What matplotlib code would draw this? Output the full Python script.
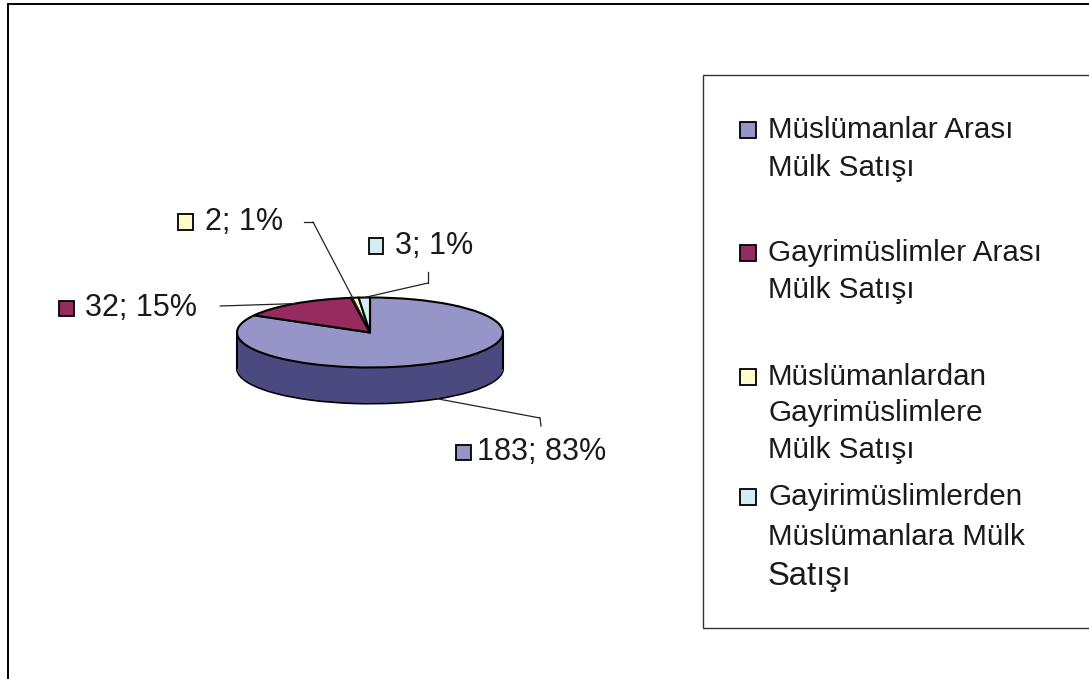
import numpy as np
import matplotlib.pyplot as plt
from matplotlib.patches import Rectangle

plt.rcParams['font.family'] = ['Liberation Sans', 'DejaVu Sans']

# data
categories = ['Müslümanlar Arası\nMülk Satışı',
              'Gayrimüslimler Arası\nMülk Satışı',
              'Müslümanlardan\nGayrimüslimlere\nMülk Satışı',
              'Gayirimüslimlerden\nMüslümanlara Mülk\nSatışı']
values = [183, 32, 2, 3]
percents = [83, 15, 1, 1]
top_colors = ['#9595C8', '#952B5E', '#FFFCCC', '#D2EEF2']
side_colors = ['#4A4A80', '#5A1A39', '#99977A', '#7E8F91']

W, H = 1089, 679
fig = plt.figure(figsize=(W / 100, H / 100), dpi=100)

def fx(px):
    return px / W

def fy(py):
    return 1 - py / H

# pie geometry in pixels (center, x radius, y radius, depth)
cx, cy = 370, 332.5
rx, ry = 133, 35
depth = 36 / ry  # in y data units

x0, x1 = -1.3, 1.3
y0, y1 = -1.3 - depth, 1.3
ax = fig.add_axes([fx(cx + x0 * rx), fy(cy - y0 * ry),
                   (x1 - x0) * rx / W, (y1 - y0) * ry / H])

# side of the cylinder: stacked copies of the pie, bottom one outlined
offsets = np.linspace(depth, 0, 60)
for i, off in enumerate(offsets):
    if i == 0:
        wp = dict(edgecolor='black', linewidth=1.5)
    else:
        wp = dict(edgecolor='none', linewidth=0)
    ax.pie(values, colors=side_colors, startangle=90, counterclock=False,
           center=(0, -off), radius=1, wedgeprops=wp)
ax.vlines([-1, 1], -depth, 0, colors='black', linewidth=1.5, zorder=3)

# top face
wedges, _ = ax.pie(values, colors=top_colors, startangle=90, counterclock=False,
                   radius=1, wedgeprops=dict(edgecolor='black', linewidth=1.5))

ax.set_aspect('auto')
ax.set_xlim(x0, x1)
ax.set_ylim(y0, y1)
ax.axis('off')

# label anchors on the slices
mids = [np.deg2rad((w.theta1 + w.theta2) / 2) for w in wedges]
anchors = [
    (np.cos(mids[0]), np.sin(mids[0]) - depth),
    (np.cos(mids[1]), np.sin(mids[1])),
    (0.3 * np.cos(mids[2]), 0.3 * np.sin(mids[2])),
    (np.cos(mids[3]), np.sin(mids[3])),
]

# data label layout (pixels): key centre, text left, elbow points of leader
label_pos = [(463, 452, 477), (66, 308, 85), (185, 222, 205), (376, 246, 395)]
leaders = [[(540, 418), (541, 426)],
           [(220, 306)],
           [(313, 222), (304, 222)],
           [(428, 283), (428, 272)]]

for i in range(len(values)):
    kx, ky, tx = label_pos[i]
    fig.text(fx(tx), fy(ky), '{}; {}%'.format(values[i], percents[i]),
             fontsize=22, va='center', ha='left', color='#1a1a1a')
    fig.add_artist(Rectangle((fx(kx - 7.5), fy(ky + 7.5)), 15 / W, 15 / H,
                             transform=fig.transFigure, facecolor=top_colors[i],
                             edgecolor='black', linewidth=1.3))
    pts = leaders[i]
    ax.annotate('', xy=anchors[i], xycoords='data',
                xytext=(fx(pts[0][0]), fy(pts[0][1])), textcoords='figure fraction',
                arrowprops=dict(arrowstyle='-', color='#222222', lw=0.9,
                                shrinkA=0, shrinkB=0))
    for a, b in zip(pts[:-1], pts[1:]):
        fig.add_artist(plt.Line2D([fx(a[0]), fx(b[0])], [fy(a[1]), fy(b[1])],
                                  transform=fig.transFigure, color='#222222', lw=0.9))

# legend box drawn by hand
fig.add_artist(Rectangle((fx(703), fy(628)), (W + 20 - 703) / W, (628 - 75) / H,
                         transform=fig.transFigure, facecolor='white',
                         edgecolor='#333333', linewidth=1.0, zorder=0))
line_y = [[130, 168], [253, 290], [377, 413, 450], [497, 537, 577]]
for i, cat in enumerate(categories):
    lines = cat.split('\n')
    ky = line_y[i][0]
    fig.add_artist(Rectangle((fx(740), fy(ky + 8)), 16 / W, 16 / H,
                             transform=fig.transFigure, facecolor=top_colors[i],
                             edgecolor='black', linewidth=1.3))
    for j, ln in enumerate(lines):
        size = 21.3
        if i == 3 and j == 2:
            size = 23.6
        fig.text(fx(768), fy(line_y[i][j]), ln, fontsize=size, va='center',
                 ha='left', color='#1a1a1a')

# outer chart frame (cut at right and bottom)
fig.add_artist(Rectangle((fx(8), fy(H + 20)), (W + 20) / W, (H + 16) / H,
                         transform=fig.transFigure, facecolor='none',
                         edgecolor='black', linewidth=1.4))

fig.savefig('out.png', dpi=100)
